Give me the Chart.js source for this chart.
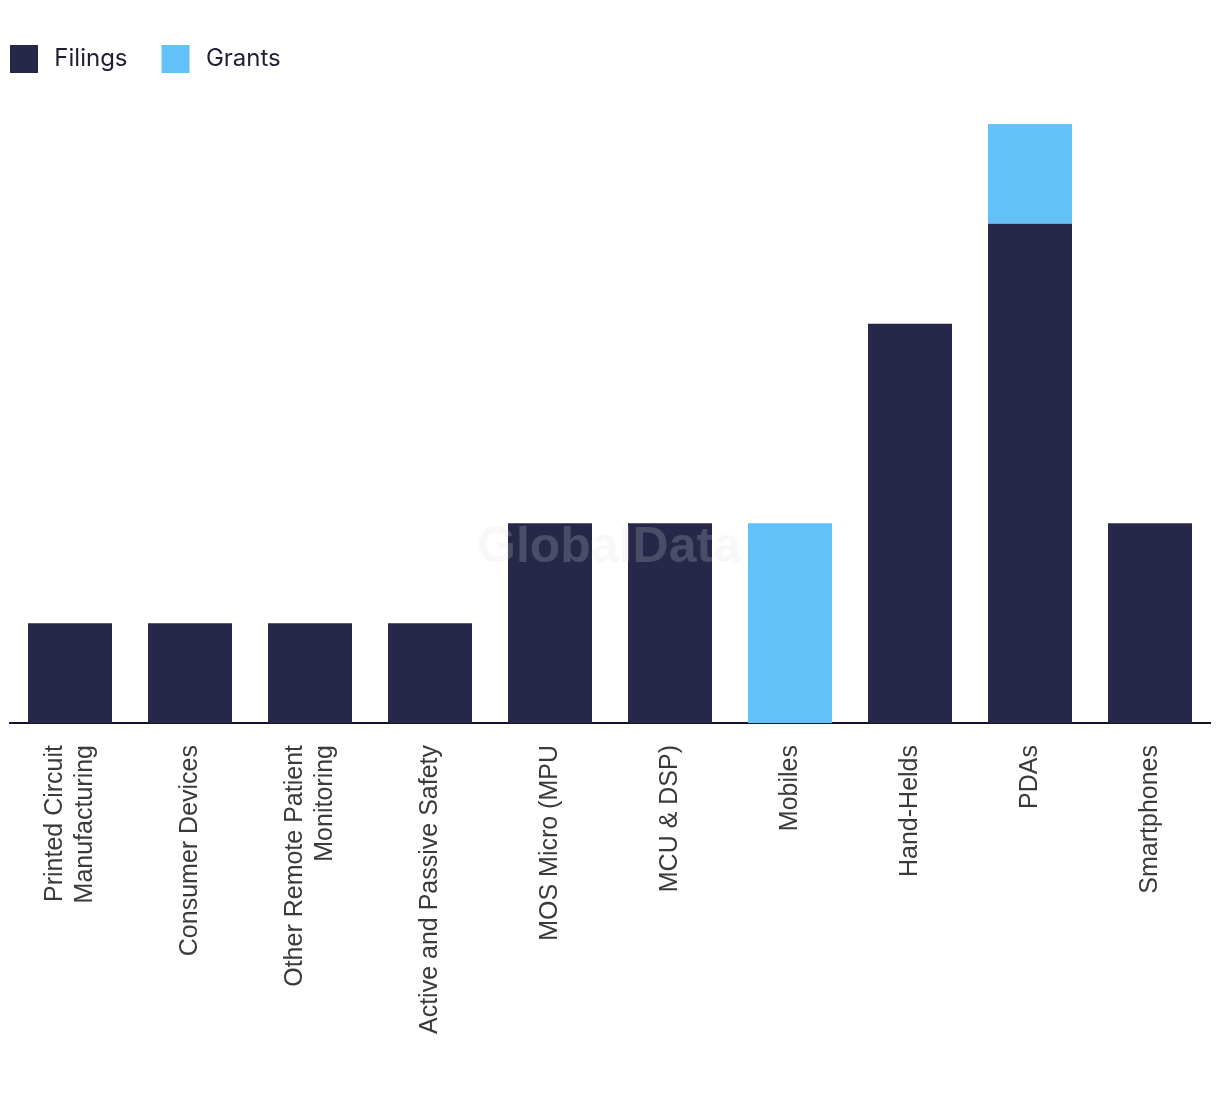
<!DOCTYPE html>
<html>
<head>
<meta charset="utf-8">
<style>
  html, body { margin: 0; padding: 0; background: #ffffff; }
  #wrap { width: 1220px; height: 1094px; }
</style>
<script src="https://cdn.jsdelivr.net/npm/chart.js@4/dist/chart.umd.min.js"></script>
</head>
<body>
<div id="wrap"><canvas id="c" width="1220" height="1094"></canvas></div>
<script>
const categories = [
  ["Printed Circuit", "Manufacturing"],
  "Consumer Devices",
  ["Other Remote Patient", "Monitoring"],
  "Active and Passive Safety",
  "MOS Micro (MPU",
  "MCU & DSP)",
  "Mobiles",
  "Hand-Helds",
  "PDAs",
  "Smartphones"
];
const seriesNames = ["Filings", "Grants"];
const filings = [1, 1, 1, 1, 2, 2, 0, 4, 5, 2];
const grants  = [0, 0, 0, 0, 0, 0, 2, 0, 1, 0];

const legendGap = {
  id: 'legendGap',
  beforeInit(chart) {
    const fit = chart.legend.fit;
    chart.legend.fit = function () { fit.call(this); this.height += 41; };
  }
};

// center multi-line rotated tick labels on their category
const centerLabels = {
  id: 'centerLabels',
  beforeDraw(chart) {
    const scale = chart.scales.x;
    const items = scale.getLabelItems(chart.chartArea);
    items.forEach(it => {
      if (Array.isArray(it.label) && !it._centered) {
        const lh = it.font.lineHeight;
        it.textOffset -= lh * (it.label.length - 1) / 2;
        it._centered = true;
      }
    });
  }
};

const watermark = {
  id: 'watermark',
  afterDatasetsDraw(chart) {
    const ctx = chart.ctx;
    ctx.save();
    ctx.font = 'bold 50px "Liberation Sans", Arial, sans-serif';
    ctx.fillStyle = 'rgba(220,220,232,0.2)';
    ctx.textAlign = 'center';
    ctx.textBaseline = 'middle';
    ctx.fillText('GlobalData', 609, 548);
    ctx.restore();
  }
};

new Chart(document.getElementById('c'), {
  type: 'bar',
  data: {
    labels: categories,
    datasets: [
      { label: seriesNames[0], data: filings, backgroundColor: '#272849', borderWidth: 0 },
      { label: seriesNames[1], data: grants,  backgroundColor: '#63c1f9', borderWidth: 0 }
    ]
  },
  options: {
    responsive: false,
    animation: false,
    layout: { padding: { top: 35, left: 0, right: 10, bottom: 0 } },
    datasets: { bar: { categoryPercentage: 0.7, barPercentage: 1.0 } },
    plugins: {
      legend: {
        position: 'top',
        align: 'start',
        labels: {
          boxWidth: 28,
          boxHeight: 28,
          padding: 10,
          color: '#1e1f33',
          font: { family: 'Inter, "Liberation Sans", sans-serif', size: 24 },
          generateLabels(chart) {
            const items = Chart.defaults.plugins.legend.labels.generateLabels(chart);
            items.forEach(it => { it.text = '\u2009' + it.text + '\u2003'; });
            return items;
          }
        }
      },
      tooltip: { enabled: false }
    },
    scales: {
      x: {
        stacked: true,
        offset: true,
        grid: { display: false, drawTicks: false },
        border: { display: true, color: '#15152a', width: 2 },
        ticks: {
          autoSkip: false,
          minRotation: 90,
          maxRotation: 90,
          padding: 22,
          color: '#3a3a3a',
          font: { family: '"Liberation Sans", Arial, sans-serif', size: 25, lineHeight: 1.2 }
        },
        afterFit(s) { s.height = 371; }
      },
      y: {
        stacked: true,
        min: 0,
        max: 6,
        grid: { display: false, drawTicks: false },
        border: { display: false },
        ticks: { display: false },
        afterFit(s) { s.width = 10; }
      }
    }
  },
  plugins: [legendGap, centerLabels, watermark]
});
</script>
</body>
</html>
